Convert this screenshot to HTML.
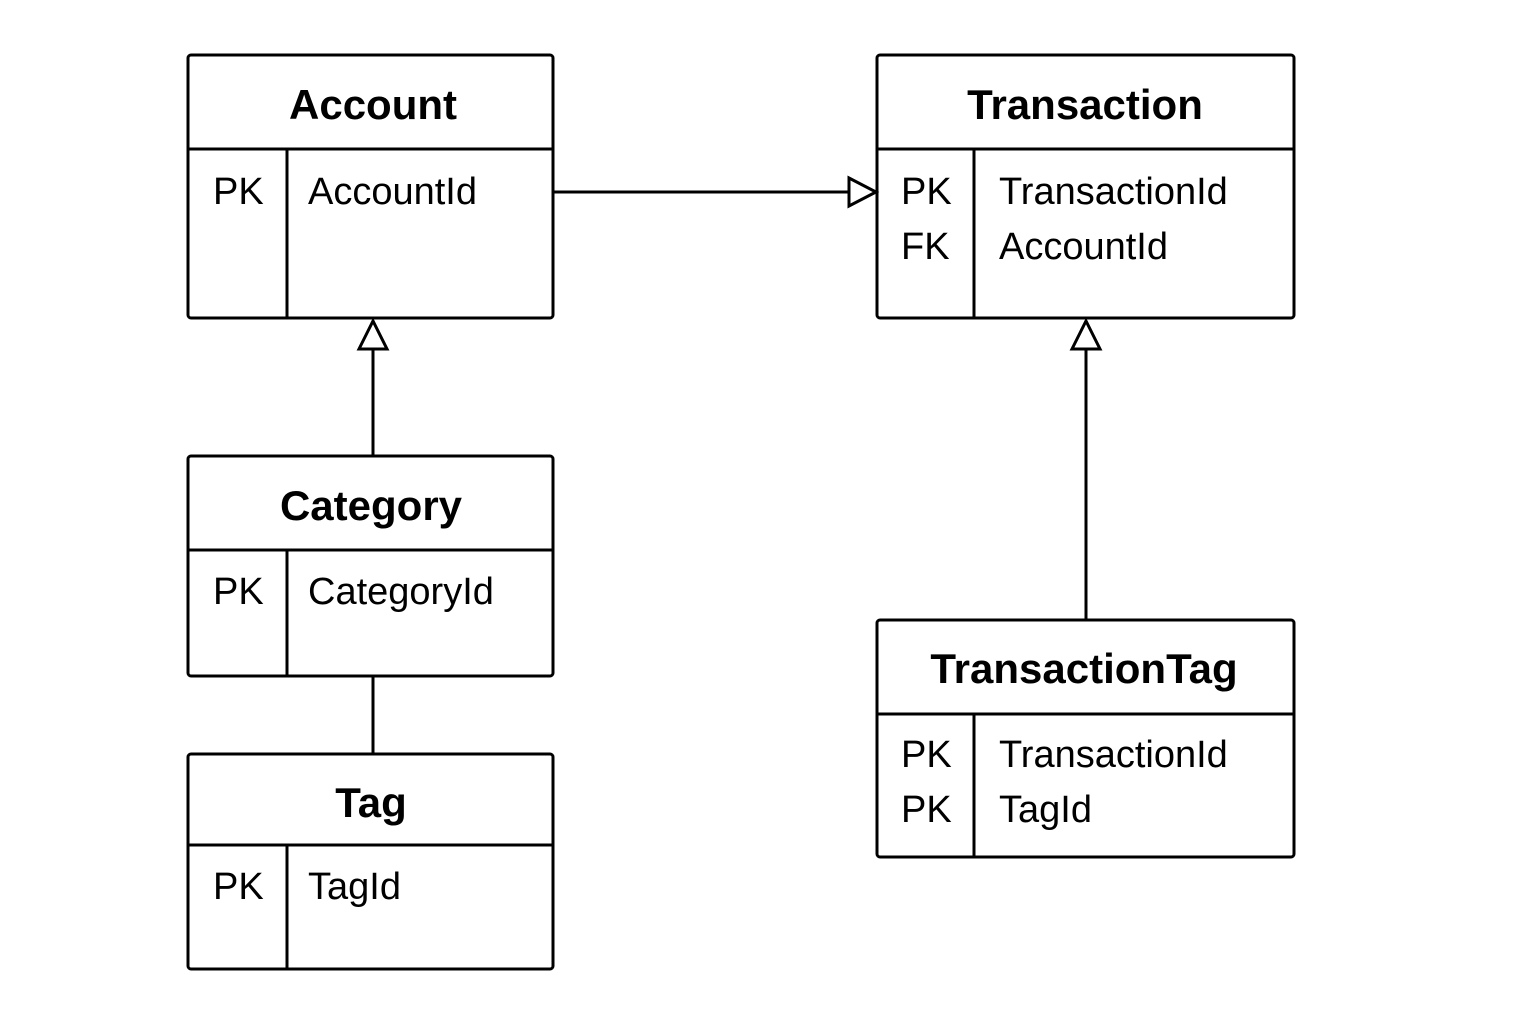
<!DOCTYPE html>
<html><head><meta charset="utf-8"><style>
html,body{margin:0;padding:0;background:#fff;}
svg{display:block;}
text{font-family:"Liberation Sans",sans-serif;fill:#000;}
.t{font-weight:bold;font-size:42px;}
.r{font-size:38px;}
</style></head><body>
<svg width="1536" height="1024" viewBox="0 0 1536 1024" xmlns="http://www.w3.org/2000/svg">
<g fill="none" stroke="#000" stroke-width="3">
<rect x="188" y="55" width="365" height="263" rx="3"/>
<line x1="188" y1="149" x2="553" y2="149"/>
<line x1="287" y1="149" x2="287" y2="318"/>
<rect x="877" y="55" width="417" height="263" rx="3"/>
<line x1="877" y1="149" x2="1294" y2="149"/>
<line x1="974" y1="149" x2="974" y2="318"/>
<rect x="188" y="456" width="365" height="220" rx="3"/>
<line x1="188" y1="550" x2="553" y2="550"/>
<line x1="287" y1="550" x2="287" y2="676"/>
<rect x="188" y="754" width="365" height="215" rx="3"/>
<line x1="188" y1="845" x2="553" y2="845"/>
<line x1="287" y1="845" x2="287" y2="969"/>
<rect x="877" y="620" width="417" height="237" rx="3"/>
<line x1="877" y1="714" x2="1294" y2="714"/>
<line x1="974" y1="714" x2="974" y2="857"/>
<line x1="553" y1="192" x2="849" y2="192"/>
<polygon points="849,178 876,192 849,206"/>
<line x1="373" y1="456" x2="373" y2="349"/>
<polygon points="359,349 373,321 387,349"/>
<line x1="1086" y1="620" x2="1086" y2="349"/>
<polygon points="1072,349 1086,321 1100,349"/>
<line x1="373" y1="676" x2="373" y2="754"/>
</g>
<text class="t" x="373" y="119" text-anchor="middle">Account</text>
<text class="r" x="213" y="204">PK</text>
<text class="r" x="308" y="204">AccountId</text>

<text class="t" x="1085" y="119" text-anchor="middle">Transaction</text>
<text class="r" x="901" y="204">PK</text>
<text class="r" x="999" y="204">TransactionId</text>
<text class="r" x="901" y="259">FK</text>
<text class="r" x="999" y="259">AccountId</text>

<text class="t" x="371" y="520" text-anchor="middle">Category</text>
<text class="r" x="213" y="604">PK</text>
<text class="r" x="308" y="604">CategoryId</text>

<text class="t" x="371" y="817" text-anchor="middle">Tag</text>
<text class="r" x="213" y="899">PK</text>
<text class="r" x="308" y="899">TagId</text>

<text class="t" x="1084" y="683" text-anchor="middle">TransactionTag</text>
<text class="r" x="901" y="767">PK</text>
<text class="r" x="999" y="767">TransactionId</text>
<text class="r" x="901" y="822">PK</text>
<text class="r" x="999" y="822">TagId</text>
</svg>
</body></html>
